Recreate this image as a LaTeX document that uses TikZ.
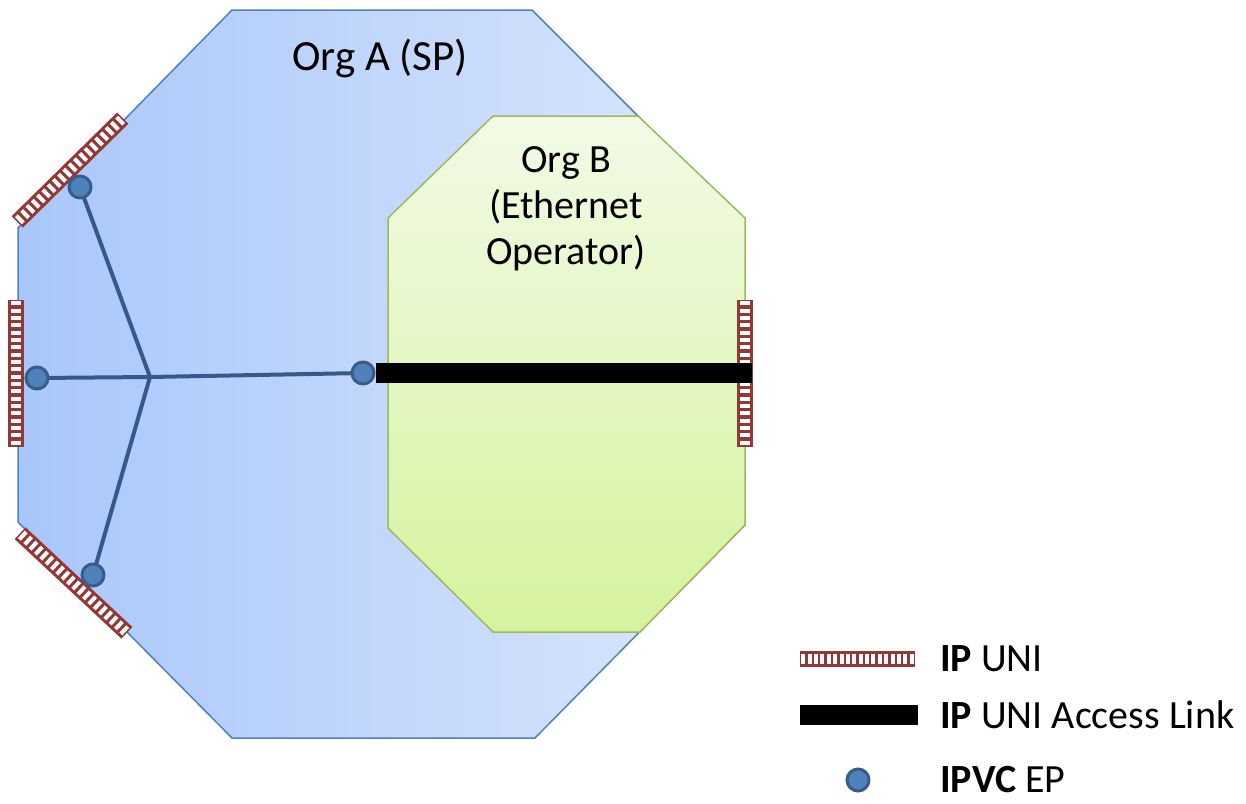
\documentclass[tikz,border=0pt]{standalone}
\usepackage{fontspec}
\setmainfont{Carlito}
\definecolor{uniRed}{RGB}{149,55,53}
\definecolor{epFill}{RGB}{79,129,189}
\definecolor{epEdge}{RGB}{56,93,138}
\definecolor{linkBlue}{RGB}{55,89,138}
\definecolor{orgAEdge}{RGB}{79,129,189}
\definecolor{orgALeft}{RGB}{168,199,250}
\definecolor{orgARight}{RGB}{220,231,253}
\definecolor{orgBEdge}{RGB}{155,187,89}
\definecolor{orgBTop}{RGB}{242,250,230}
\definecolor{orgBBot}{RGB}{213,243,158}
% UNI bar: centre, angle, length, number of slits
\newcommand\uniBar[4]{%
\begin{scope}[shift={(#1)},rotate=#2]
\fill[uniRed] ({-#3/2},-8) rectangle ({#3/2},8);
\foreach \k in {1,...,#4}
  \fill[white] ({-#3/2+(\k-0.5)*#3/#4-2},-5) rectangle ++(4,10);
\end{scope}}
\begin{document}
\begin{tikzpicture}[x=1pt,y=-1pt,
    bigTxt/.style={font=\fontsize{40}{46}\selectfont,align=center,inner sep=0pt},
    epDot/.style={circle,minimum size=22pt,inner sep=0pt,fill=epFill,draw=epEdge,line width=3pt},
    pvcLine/.style={linkBlue,line width=4pt},
    accLink/.style={black,line width=20pt},
]
\useasboundingbox (0,0) rectangle (1246,803);
% Org A outline
\shadedraw[left color=orgALeft,right color=orgARight,draw=orgAEdge,line width=1.5pt]
  (232,10) -- (532,10) -- (745,223) -- (745,525) -- (535,738) -- (232,738) -- (18,522) -- (18,228) -- cycle;
\node[bigTxt,font=\fontsize{43}{46}\selectfont] (orgA) at (380,58) {Org A (SP)};
% Org B outline
\shadedraw[top color=orgBTop,bottom color=orgBBot,draw=orgBEdge,line width=1.5pt]
  (493,116) -- (638,116) -- (745,218) -- (745,525) -- (640,632) -- (493,632) -- (388,528) -- (388,218) -- cycle;
\node[bigTxt] (orgB) at (566,209) {Org B\\(Ethernet\\Operator)};
% UNIs
\uniBar{70,170}{44.5}{148}{20}
\uniBar{16,373}{90}{147}{20}
\uniBar{73.5,583}{-43}{146}{20}
\uniBar{744.5,373}{90}{147}{20}
% IPVC
\coordinate (hub) at (150,377);
\coordinate (pTop) at (80,187);
\coordinate (pMid) at (37,378);
\coordinate (pBot) at (93,575);
\coordinate (pRgt) at (363,373);
\draw[pvcLine] (hub) -- (pTop) (hub) -- (pMid) (hub) -- (pBot) (hub) -- (pRgt);
\node[epDot] (epTop) at (pTop) {};
\node[epDot] (epMid) at (pMid) {};
\node[epDot] (epBot) at (pBot) {};
\node[epDot] (epRgt) at (pRgt) {};
% access link
\coordinate (linkEnd) at (752,373);
\draw[accLink] (epRgt.east) -- (linkEnd);
% legend
\uniBar{857.5,659}{0}{115}{18}
\coordinate (accA) at (800,715);
\coordinate (accB) at (918,715);
\draw[accLink] (accA) -- (accB);
\node[epDot] (epLeg) at (858,780) {};
\node[bigTxt,anchor=west] (legUni) at (940,659) {\textbf{IP} UNI};
\node[bigTxt,anchor=west] (legAcc) at (940,715) {\textbf{IP} UNI Access Link};
\node[bigTxt,anchor=west] (legEp) at (940,780) {\textbf{IPVC} EP};
\end{tikzpicture}
\end{document}
